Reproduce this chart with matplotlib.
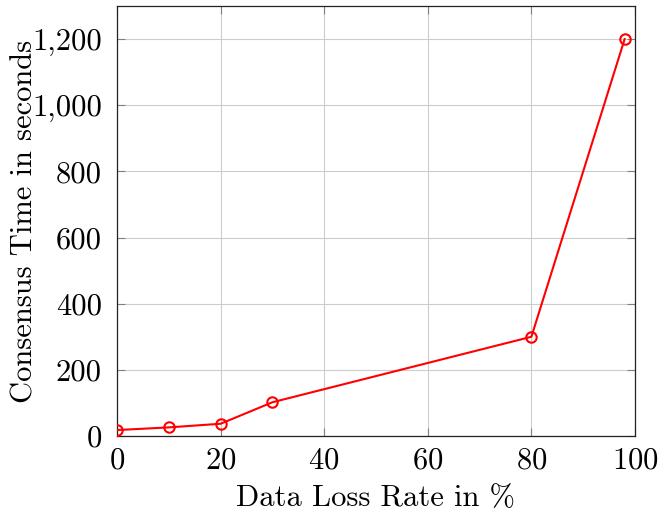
import matplotlib
matplotlib.use("Agg")
import matplotlib.pyplot as plt
from matplotlib.ticker import FuncFormatter

plt.rcParams['font.family'] = ['cmr10', 'DejaVu Serif']
plt.rcParams['axes.formatter.use_mathtext'] = True
plt.rcParams['mathtext.fontset'] = 'cm'

loss_rate = [0, 10, 20, 30, 80, 98]
consensus_time = [18, 26, 37, 102, 300, 1200]
x_ticks = [0, 20, 40, 60, 80, 100]
y_ticks = [0, 200, 400, 600, 800, 1000, 1200]

fig = plt.figure(figsize=(6.58, 5.16), dpi=100)
ax = fig.add_axes([117/658, (516-436)/516, (635-117)/658, (436-6)/516])

ax.plot(loss_rate, consensus_time, color='#ff0000', linewidth=1.5,
        marker='o', markersize=7.5, markerfacecolor='none',
        markeredgecolor='#ff0000', markeredgewidth=1.5, zorder=3)

ax.set_xlim(0, 100)
ax.set_ylim(0, 1300)
ax.set_xticks(x_ticks)
ax.set_yticks(y_ticks)
ax.yaxis.set_major_formatter(FuncFormatter(lambda v, p: f"{int(v):,}"))
ax.grid(True, color='#cccccc', linewidth=0.8)
ax.set_axisbelow(True)
ax.tick_params(direction='in', length=6, width=0.8, color='#808080',
               top=True, right=True, labelsize=22)
ax.tick_params(axis='y', pad=11)
ax.tick_params(axis='x', pad=8)
for s in ax.spines.values():
    s.set_linewidth(0.9)
    s.set_color('#222222')

ax.set_xlabel('Data Loss Rate in %', fontsize=22, labelpad=7)
ax.set_ylabel('Consensus Time in seconds', fontsize=22)
ax.yaxis.set_label_coords(-0.152, 0.5)

fig.savefig('out.png', dpi=100)
